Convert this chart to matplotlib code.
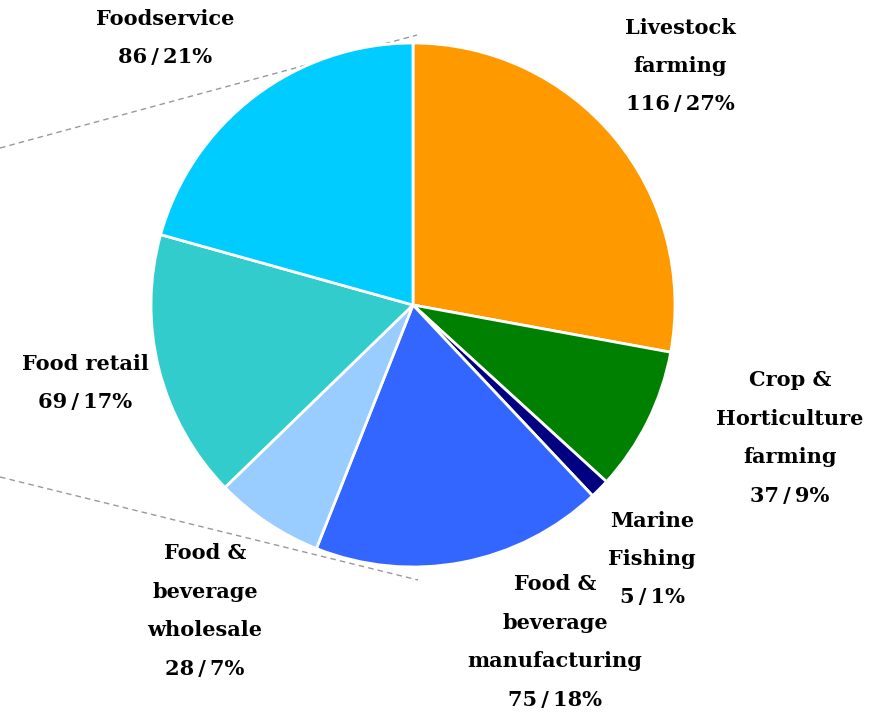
import matplotlib.pyplot as plt

sectors = ["Livestock\nfarming", "Crop &\nHorticulture\nfarming", "Marine\nFishing",
           "Food &\nbeverage\nmanufacturing", "Food &\nbeverage\nwholesale",
           "Food retail", "Foodservice"]
counts = [116, 37, 5, 75, 28, 69, 86]
shares = [27, 9, 1, 18, 7, 17, 21]
colors = ["#FF9900", "#008000", "#000080", "#3366FF", "#99CCFF", "#33CCCC", "#00CCFF"]

W, H = 881, 718

fig = plt.figure(figsize=(W / 100, H / 100), dpi=100)
ax = fig.add_axes([0, 0, 1, 1])


def py(y):
    # pixel rows counted from the top
    return H - y


# connector lines from the parent chart
ax.plot([0, 417], [py(148), py(35)], ls=(0, (4, 3)), color="#999999", lw=1, zorder=1)
ax.plot([0, 418], [py(477), py(580)], ls=(0, (4, 3)), color="#999999", lw=1, zorder=1)

ax.pie(counts, colors=colors, startangle=90, counterclock=False,
       center=(413, py(305)), radius=262, frame=True,
       wedgeprops=dict(edgecolor="white", linewidth=2, zorder=2))
ax.set_xlim(0, W)
ax.set_ylim(0, H)
ax.set_aspect("equal")
ax.axis("off")

label_pos = [(680, 66), (790, 438), (652, 559), (555, 642), (205, 611), (85, 383), (165, 38)]
for name, n, pct, (x, y) in zip(sectors, counts, shares, label_pos):
    ax.text(x, py(y), f"{name}\n{n}\u2009/\u2009{pct}%", ha="center", va="center",
            fontsize=15, fontweight="bold", family="DejaVu Serif",
            linespacing=2.15, color="black", zorder=3)

fig.savefig("out.png", dpi=100)
